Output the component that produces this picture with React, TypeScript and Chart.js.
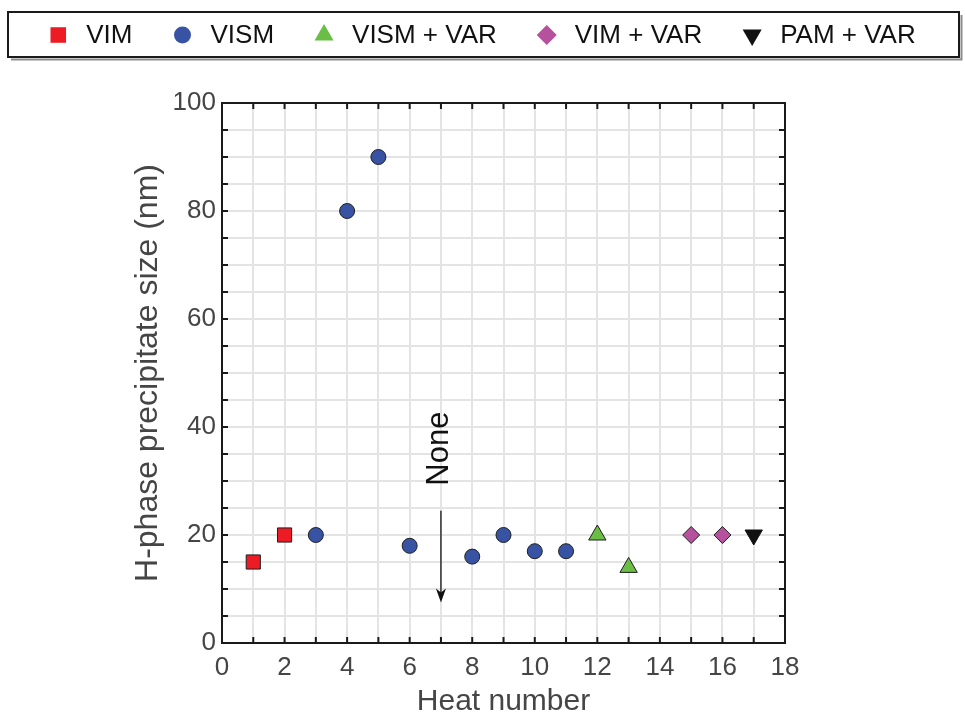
import React, { useEffect, useRef } from "react";
import { Chart, registerables } from "chart.js";
import { drawPoint } from "chart.js/helpers";

Chart.register(...registerables);

const FONT = "'Liberation Sans', Arial, Helvetica, sans-serif";

// Heat number vs. H-phase precipitate size (nm), grouped by melting route
const vimHeat = [1, 2];
const vimSize = [15, 20];
const vismHeat = [3, 4, 5, 6, 8, 9, 10, 11];
const vismSize = [20, 80, 90, 18, 16, 20, 17, 17];
const vismVarHeat = [12, 13];
const vismVarSize = [20, 14];
const vimVarHeat = [15, 16];
const vimVarSize = [20, 20];
const pamVarHeat = [17];
const pamVarSize = [20];

// Heat 7 showed no precipitates: label and arrow in data units
const noneHeat = 7;
const noneLabelSize = 36;
const noneArrowFrom = 24.5;
const noneArrowTo = 7.5;

const toPoints = (xs: number[], ys: number[]) => xs.map((x, i) => ({ x, y: ys[i] }));

const legendBox = {
  id: "legendBox",
  afterDraw(chart: any) {
    const ctx: CanvasRenderingContext2D = chart.ctx;
    ctx.save();
    // box with a faint drop shadow on the lower/right edges
    ctx.lineWidth = 2;
    ctx.strokeStyle = "#8c8c8c";
    ctx.beginPath();
    ctx.moveTo(11, 59.5);
    ctx.lineTo(961.5, 59.5);
    ctx.lineTo(961.5, 15);
    ctx.stroke();
    ctx.strokeStyle = "#1a1a1a";
    ctx.strokeRect(8, 12, 951, 45);

    ctx.font = `26px ${FONT}`;
    ctx.textBaseline = "middle";
    ctx.textAlign = "left";
    const markerGap = 28;
    const itemGap = 50;
    const half = 9;
    const items = chart.data.datasets.map((ds: any) => ({ ds, w: ctx.measureText(ds.label).width }));
    let total = half;
    items.forEach((it: any, i: number) => {
      total += markerGap + it.w + (i < items.length - 1 ? itemGap : 0);
    });
    let x = (chart.width - total) / 2 + half;
    const y = 35;
    items.forEach((it: any) => {
      const ds = it.ds;
      ctx.fillStyle = ds.backgroundColor;
      drawPoint(ctx, {
        pointStyle: ds.pointStyle,
        rotation: ds.pointRotation || 0,
        radius: ds.legendRadius,
        borderWidth: 0,
      } as any, x, y);
      ctx.fillStyle = "#111";
      ctx.fillText(ds.label, x + markerGap, y + 1);
      x += markerGap + it.w + itemGap;
    });
    ctx.restore();
  },
};

const frameTicks = {
  id: "frameTicks",
  beforeDatasetsDraw(chart: any) {
    const ctx: CanvasRenderingContext2D = chart.ctx;
    const { left, right, top, bottom } = chart.chartArea;
    const xs = chart.scales.x;
    const ys = chart.scales.y;
    const len = 6;
    ctx.save();
    ctx.strokeStyle = "#1a1a1a";
    ctx.lineWidth = 2;
    ctx.beginPath();
    xs.ticks.forEach((t: any) => {
      const px = xs.getPixelForValue(t.value);
      ctx.moveTo(px, bottom);
      ctx.lineTo(px, bottom - len);
      ctx.moveTo(px, top);
      ctx.lineTo(px, top + len);
    });
    ys.ticks.forEach((t: any) => {
      const py = ys.getPixelForValue(t.value);
      ctx.moveTo(left, py);
      ctx.lineTo(left + len, py);
      ctx.moveTo(right, py);
      ctx.lineTo(right - len, py);
    });
    ctx.stroke();
    ctx.strokeRect(left, top, right - left, bottom - top);
    ctx.restore();
  },
};

const noneNote = {
  id: "noneNote",
  afterDatasetsDraw(chart: any) {
    const ctx: CanvasRenderingContext2D = chart.ctx;
    const xs = chart.scales.x;
    const ys = chart.scales.y;
    const px = xs.getPixelForValue(noneHeat);
    const yLabel = ys.getPixelForValue(noneLabelSize);
    const y0 = ys.getPixelForValue(noneArrowFrom);
    const y1 = ys.getPixelForValue(noneArrowTo);
    ctx.save();
    ctx.fillStyle = "#111";
    ctx.font = `31px ${FONT}`;
    ctx.textAlign = "center";
    ctx.textBaseline = "middle";
    ctx.translate(px - 1, yLabel);
    ctx.rotate(-Math.PI / 2);
    ctx.fillText("None", 0, 0);
    ctx.restore();

    ctx.save();
    ctx.strokeStyle = "#111";
    ctx.fillStyle = "#111";
    ctx.lineWidth = 1.3;
    ctx.beginPath();
    ctx.moveTo(px, y0);
    ctx.lineTo(px, y1 - 6);
    ctx.stroke();
    ctx.beginPath();
    ctx.moveTo(px, y1);
    ctx.lineTo(px - 5, y1 - 14);
    ctx.lineTo(px, y1 - 10);
    ctx.lineTo(px + 5, y1 - 14);
    ctx.closePath();
    ctx.fill();
    ctx.restore();
  },
};

export default function App() {
  const canvasRef = useRef<HTMLCanvasElement | null>(null);

  useEffect(() => {
    if (!canvasRef.current) return;
    const edge = "#1f1f1f";
    const chart = new Chart(canvasRef.current, {
      type: "scatter",
      data: {
        datasets: [
          {
            label: "VIM",
            data: toPoints(vimHeat, vimSize),
            pointStyle: "rect",
            pointRadius: 10,
            backgroundColor: "#ed1c24",
            borderColor: edge,
            borderWidth: 1,
            legendRadius: 11,
          } as any,
          {
            label: "VISM",
            data: toPoints(vismHeat, vismSize),
            pointStyle: "circle",
            pointRadius: 7.5,
            backgroundColor: "#3853a4",
            borderColor: edge,
            borderWidth: 1,
            legendRadius: 8.5,
          } as any,
          {
            label: "VISM + VAR",
            data: toPoints(vismVarHeat, vismVarSize),
            pointStyle: "triangle",
            pointRadius: 10,
            backgroundColor: "#6abd45",
            borderColor: edge,
            borderWidth: 1,
            legendRadius: 11,
          } as any,
          {
            label: "VIM + VAR",
            data: toPoints(vimVarHeat, vimVarSize),
            pointStyle: "rectRot",
            pointRadius: 8.5,
            backgroundColor: "#b6519e",
            borderColor: edge,
            borderWidth: 1,
            legendRadius: 10,
          } as any,
          {
            label: "PAM + VAR",
            data: toPoints(pamVarHeat, pamVarSize),
            pointStyle: "triangle",
            pointRotation: 180,
            pointRadius: 10,
            backgroundColor: "#111111",
            borderColor: "#111111",
            borderWidth: 1,
            legendRadius: 11,
          } as any,
        ],
      },
      options: {
        responsive: false,
        animation: false,
        layout: { padding: { top: 103, right: 180, left: 0, bottom: 0 } },
        plugins: { legend: { display: false }, tooltip: { enabled: false } },
        scales: {
          x: {
            type: "linear",
            min: 0,
            max: 18,
            border: { display: false },
            grid: { color: "#e4e4e4", lineWidth: 2, drawTicks: false },
            ticks: {
              stepSize: 1,
              autoSkip: false,
              maxRotation: 0,
              padding: 9,
              color: "#454545",
              font: { family: FONT, size: 26 },
              callback: (v: any) => (Number(v) % 2 === 0 ? String(v) : ""),
            },
            title: {
              display: true,
              text: "Heat number",
              color: "#454545",
              font: { family: FONT, size: 30 },
              padding: { top: 0, bottom: 0 },
            },
            afterFit: (s: any) => {
              s.height = 77;
            },
          },
          y: {
            type: "linear",
            min: 0,
            max: 100,
            border: { display: false },
            grid: { color: "#e4e4e4", lineWidth: 2, drawTicks: false },
            ticks: {
              stepSize: 5,
              autoSkip: false,
              padding: 6,
              color: "#454545",
              font: { family: FONT, size: 26 },
              callback: (v: any) => (Number(v) % 20 === 0 ? String(v) : ""),
            },
            title: {
              display: true,
              text: "H-phase precipitate size (nm)",
              color: "#454545",
              font: { family: FONT, size: 32 },
              padding: { top: 129, bottom: 0 },
            },
            afterFit: (s: any) => {
              s.width = 222;
            },
          },
        },
      } as any,
      plugins: [frameTicks, noneNote, legendBox],
    });
    return () => chart.destroy();
  }, []);

  return (
    <div style={{ position: "absolute", left: 0, top: 0, width: 965, height: 720, background: "#fff" }}>
      <canvas ref={canvasRef} width={965} height={720} />
    </div>
  );
}
